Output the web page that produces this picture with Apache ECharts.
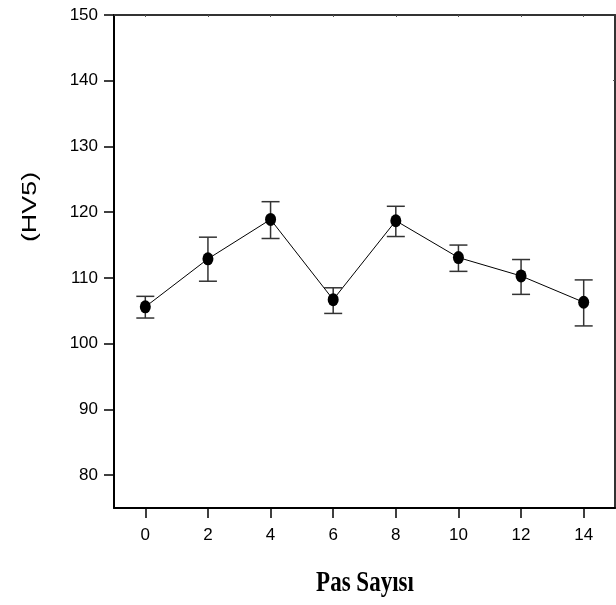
<!DOCTYPE html>
<html><head><meta charset="utf-8">
<script src="https://cdn.jsdelivr.net/npm/echarts@6/dist/echarts.min.js"></script>
<style>html,body{margin:0;padding:0;background:#fff}#c{width:616px;height:605px}</style>
</head><body><div id="c"></div>
<script>
const passes = [0, 2, 4, 6, 8, 10, 12, 14];
const hardness = [105.6, 112.9, 118.9, 106.7, 118.7, 113.1, 110.3, 106.3];
const errLow = [103.9, 109.5, 116.0, 104.6, 116.3, 111.0, 107.5, 102.7];
const errHigh = [107.2, 116.2, 121.6, 108.5, 120.9, 115.0, 112.8, 109.7];
const xTicks = [0, 2, 4, 6, 8, 10, 12, 14];
const yTicks = [80, 90, 100, 110, 120, 130, 140, 150];
const yTitle = '(HV5)';
const xTitle = 'Pas Sayısı';

const chart = echarts.init(document.getElementById('c'));
const axisFont = {fontFamily: '"Liberation Sans", Arial, sans-serif', fontSize: 17, color: '#000'};
chart.setOption({
  animation: false,
  backgroundColor: '#fff',
  grid: {left: 114, top: 15, right: 1, bottom: 97, containLabel: false},
  xAxis: [{
    type: 'value', min: -1, max: 15, position: 'bottom',
    axisLine: {onZero: false, lineStyle: {color: '#000', width: 2}},
    axisTick: {customValues: xTicks, length: 10, lineStyle: {color: '#000', width: 1.5}},
    axisLabel: Object.assign({customValues: xTicks, margin: 19}, axisFont),
    splitLine: {show: false}
  }, {
    type: 'value', min: -1, max: 15, position: 'top',
    axisLine: {onZero: false, lineStyle: {color: '#333', width: 2}},
    axisTick: {customValues: xTicks, inside: true, length: 2, lineStyle: {color: '#555'}},
    axisLabel: {show: false}, splitLine: {show: false}
  }],
  yAxis: [{
    type: 'value', min: 75, max: 150, position: 'left',
    axisLine: {onZero: false, lineStyle: {color: '#000', width: 2}},
    axisTick: {customValues: yTicks, length: 10, lineStyle: {color: '#000', width: 1.5}},
    axisLabel: Object.assign({customValues: yTicks, margin: 16}, axisFont),
    splitLine: {show: false}
  }, {
    type: 'value', min: 75, max: 150, position: 'right',
    axisLine: {onZero: false, lineStyle: {color: '#333', width: 2}},
    axisTick: {customValues: [140], inside: true, length: 2, lineStyle: {color: '#555'}},
    axisLabel: {show: false}, splitLine: {show: false}
  }],
  graphic: [
    {type: 'text', x: 30, y: 207, rotation: Math.PI / 2, scaleX: 1.28, style: {text: yTitle, fill: '#000', font: '21px "Liberation Sans", Arial, sans-serif', align: 'center', verticalAlign: 'middle'}},
    {type: 'text', x: 365, y: 583, scaleY: 1.3, style: {text: xTitle, fill: '#000', font: 'bold 23px "Liberation Serif", "Times New Roman", serif', align: 'center', verticalAlign: 'middle'}}
  ],
  series: [{
    type: 'custom',
    data: passes.map((p, i) => [p, errLow[i], errHigh[i]]),
    renderItem: function (params, api) {
      const lo = api.coord([api.value(0), api.value(1)]);
      const hi = api.coord([api.value(0), api.value(2)]);
      const hw = 9;
      const st = {stroke: '#333', lineWidth: 1.5};
      return {type: 'group', children: [
        {type: 'line', shape: {x1: lo[0], y1: lo[1], x2: hi[0], y2: hi[1]}, style: st},
        {type: 'line', shape: {x1: lo[0] - hw, y1: lo[1], x2: lo[0] + hw, y2: lo[1]}, style: st},
        {type: 'line', shape: {x1: hi[0] - hw, y1: hi[1], x2: hi[0] + hw, y2: hi[1]}, style: st}
      ]};
    },
    z: 1
  }, {
    type: 'line',
    data: passes.map((p, i) => [p, hardness[i]]),
    symbol: 'circle', symbolSize: [11, 13],
    itemStyle: {color: '#000'},
    lineStyle: {color: '#000', width: 1},
    z: 2
  }]
});
</script></body></html>
